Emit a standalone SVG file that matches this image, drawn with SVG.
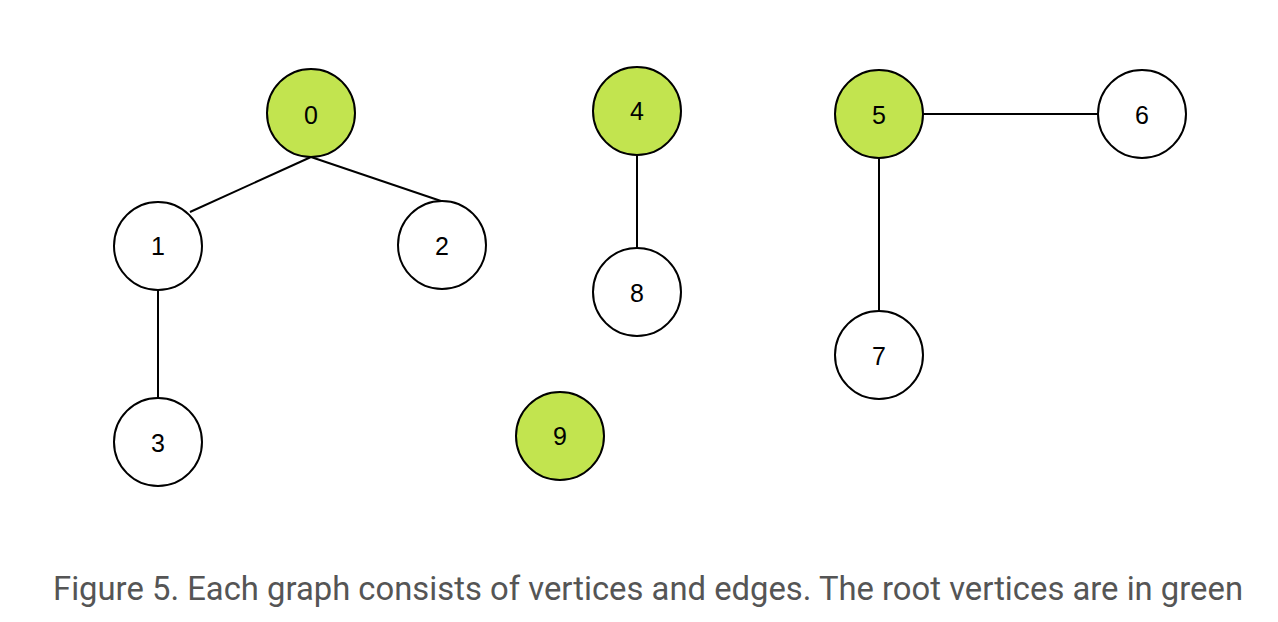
<svg xmlns="http://www.w3.org/2000/svg" width="1278" height="622" viewBox="0 0 1278 622">
<style>
.n circle{stroke:#000;stroke-width:2;fill:#fff}
.n.root circle{fill:#c2e44f}
.n text{font-family:"Liberation Sans",Arial,sans-serif;fill:#000;text-anchor:middle}
.e line{stroke:#000;stroke-width:2}
.cap{font-family:Roboto,"Liberation Sans",sans-serif;font-size:32.5px;fill:#555}
</style>
<rect width="1278" height="622" fill="#fff"/>
<g id="edges" class="e">
<line x1="311" y1="157" x2="190" y2="212"/>
<line x1="311" y1="157" x2="441" y2="201"/>
<line x1="158" y1="290" x2="158" y2="398"/>
<line x1="637" y1="155" x2="637" y2="248"/>
<line x1="923" y1="114" x2="1098" y2="114"/>
<line x1="879" y1="158" x2="879" y2="311"/>
</g>
<g id="node0" class="n root"><circle cx="311" cy="113" r="44"/><text x="311" y="124" font-size="25">0</text></g>
<g id="node1" class="n"><circle cx="158" cy="246" r="44"/><text x="158" y="255" font-size="25">1</text></g>
<g id="node2" class="n"><circle cx="442" cy="245" r="44"/><text x="442" y="255" font-size="25">2</text></g>
<g id="node3" class="n"><circle cx="158" cy="442" r="44"/><text x="158" y="452" font-size="25">3</text></g>
<g id="node4" class="n root"><circle cx="637" cy="111" r="44"/><text x="637" y="120" font-size="25">4</text></g>
<g id="node8" class="n"><circle cx="637" cy="292" r="44"/><text x="637" y="302" font-size="25">8</text></g>
<g id="node5" class="n root"><circle cx="879" cy="114" r="44"/><text x="879" y="124" font-size="25">5</text></g>
<g id="node6" class="n"><circle cx="1142" cy="114" r="44"/><text x="1142" y="124" font-size="25">6</text></g>
<g id="node7" class="n"><circle cx="879" cy="355" r="44"/><text x="879" y="365" font-size="25">7</text></g>
<g id="node9" class="n root"><circle cx="560" cy="436" r="44"/><text x="560" y="445" font-size="25">9</text></g>
<text class="cap" x="53" y="600" textLength="1190" lengthAdjust="spacingAndGlyphs">Figure 5. Each graph consists of vertices and edges. The root vertices are in green</text>
</svg>
